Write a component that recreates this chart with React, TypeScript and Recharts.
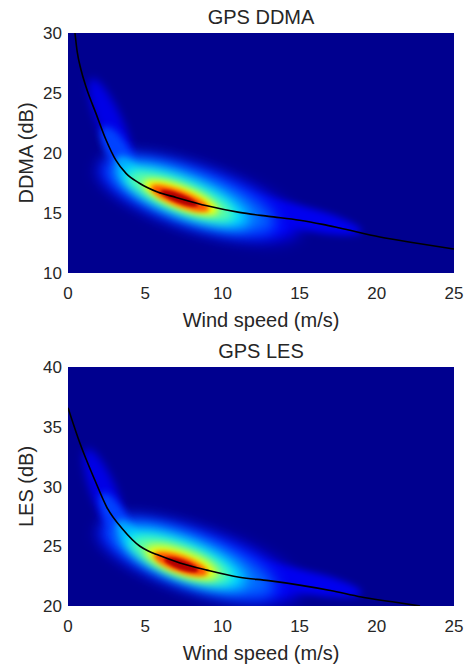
import React from 'react';
import { ComposedChart, Line, XAxis, YAxis, ReferenceArea } from 'recharts';

// ---------- data ----------
const windTicks = [0, 5, 10, 15, 20, 25];
const ddmaTicks = [10, 15, 20, 25, 30];
const lesTicks = [20, 25, 30, 35, 40];

const ddmaCurveWind = [0.45, 0.6, 0.85, 1.17, 1.81, 2.46, 3.1, 3.76, 4.6, 5.8, 7.0, 9.0, 11.1, 13.0, 15.0, 16.5, 17.6, 20.2, 22.5, 25.0];
const ddmaCurveValue = [30.0, 28.4, 26.9, 25.5, 23.3, 21.1, 19.4, 18.3, 17.5, 16.75, 16.3, 15.6, 15.05, 14.72, 14.4, 14.05, 13.75, 13.0, 12.5, 12.0];

const lesCurveWind = [0.0, 0.78, 1.75, 2.5, 3.56, 4.66, 5.2, 5.76, 7.25, 9.0, 11.1, 13.0, 15.0, 17.0, 19.0, 21.0, 22.8];
const lesCurveValue = [36.6, 33.6, 30.5, 28.3, 26.4, 25.0, 24.6, 24.3, 23.6, 23.0, 22.4, 22.12, 21.75, 21.3, 20.75, 20.35, 20.0];

// density contours: [centre wind, centre dB, half-extent wind, half-thickness dB, tilt dB per m/s, density level 0..1]
const ddmaDensity = [
  [8.5, 16.2, 6.5, 2.6, -0.4, 0.13],
  [2.8, 22.3, 1.3, 2.6, -3.0, 0.1],
  [14.5, 14.8, 4.5, 1.0, -0.3, 0.11],
  [7.9, 16.45, 5.5, 2.3, -0.45, 0.23],
  [3.2, 20.2, 0.9, 1.8, -2.2, 0.19],
  [3.9, 18.6, 0.7, 1.2, -1.5, 0.28],
  [7.5, 16.4, 4.2, 1.75, -0.5, 0.35],
  [7.3, 16.38, 3.4, 1.35, -0.5, 0.47],
  [7.3, 16.3, 2.4, 1.0, -0.5, 0.62],
  [7.25, 16.22, 1.9, 0.7, -0.5, 0.8],
  [7.2, 16.22, 1.2, 0.42, -0.5, 0.95],
];

const lesDensity = [
  [8.5, 23.8, 6.5, 2.6, -0.4, 0.13],
  [2.4, 29.3, 1.2, 2.8, -3.2, 0.1],
  [14.5, 22.2, 4.5, 1.0, -0.25, 0.11],
  [7.9, 23.95, 5.5, 2.3, -0.47, 0.23],
  [3.1, 27.3, 0.9, 1.8, -2.4, 0.19],
  [3.9, 26.0, 0.7, 1.2, -1.6, 0.28],
  [7.5, 23.93, 4.0, 1.8, -0.5, 0.35],
  [7.3, 23.82, 3.2, 1.4, -0.48, 0.47],
  [7.35, 23.64, 2.3, 1.05, -0.46, 0.62],
  [7.3, 23.52, 1.75, 0.72, -0.45, 0.8],
  [7.33, 23.45, 1.1, 0.45, -0.45, 0.95],
];

const backgroundLevel = 0.015;

// ---------- helpers ----------
const clamp01 = (v: number) => Math.max(0, Math.min(1, v));
const jet = (v: number) => {
  const r = clamp01(1.5 - Math.abs(4 * v - 3));
  const g = clamp01(1.5 - Math.abs(4 * v - 2));
  const b = clamp01(1.5 - Math.abs(4 * v - 1));
  return `rgb(${Math.round(r * 255)},${Math.round(g * 255)},${Math.round(b * 255)})`;
};

const FONT = '"Liberation Sans", Arial, Helvetica, sans-serif';
const TEXT = '#262626';

const toRows = (w: number[], v: number[]) => w.map((x, i) => ({ wind: x, value: v[i] }));

const makeBackgroundShape = (clipId: string) => (p: any) => {
  const x = Math.min(p.x, p.x + p.width);
  const y = Math.min(p.y, p.y + p.height);
  const w = Math.abs(p.width);
  const h = Math.abs(p.height);
  return (
    <g>
      <defs>
        <clipPath id={clipId}>
          <rect x={x} y={y} width={w} height={h} />
        </clipPath>
      </defs>
      <rect x={x} y={y} width={w} height={h} fill={jet(backgroundLevel)} />
    </g>
  );
};

const makeBlobShape = (blob: number[], id: string, clipId: string) => (p: any) => {
  const [, , halfW, halfT, slope, level] = blob;
  const width = Math.abs(p.width);
  const height = Math.abs(p.height);
  const x = Math.min(p.x, p.x + p.width);
  const y = Math.min(p.y, p.y + p.height);
  if (!isFinite(width) || !isFinite(height) || width === 0 || height === 0) return <g />;
  const cx = x + width / 2;
  const cy = y + height / 2;
  const pxU = width / (2 * halfW);
  const pyU = height / (2 * halfT);
  const theta = Math.atan2(-slope * pyU, pxU);
  const a = halfW * Math.sqrt(pxU * pxU + slope * pyU * slope * pyU);
  const b = halfT * pyU * Math.cos(theta);
  const sd = Math.min(8, Math.max(1.8, b * 0.34));
  return (
    <g clipPath={`url(#${clipId})`}>
      <defs>
        <filter id={id} x="-100%" y="-100%" width="300%" height="300%">
          <feGaussianBlur stdDeviation={sd} />
        </filter>
      </defs>
      <ellipse
        cx={cx}
        cy={cy}
        rx={a}
        ry={b}
        fill={jet(level)}
        filter={`url(#${id})`}
        transform={`rotate(${(theta * 180) / Math.PI} ${cx} ${cy})`}
      />
    </g>
  );
};

type PanelProps = {
  id: string;
  title: string;
  yLabel: string;
  yTicks: number[];
  rows: { wind: number; value: number }[];
  blobs: number[][];
  height: number;
  bottom: number;
};

const Panel = ({ id, title, yLabel, yTicks, rows, blobs, height, bottom }: PanelProps) => {
  const margin = { top: 33, right: 17, bottom, left: 8 };
  const plotTop = margin.top;
  const plotBottom = height - bottom - 50;
  const plotMidX = (68 + 454) / 2;
  const yDomain = [yTicks[0], yTicks[yTicks.length - 1]];
  const clipId = `${id}-plot-clip`;
  return (
    <ComposedChart width={471} height={height} data={rows} margin={margin}>
      <XAxis
        dataKey="wind"
        type="number"
        domain={[0, 25]}
        ticks={windTicks}
        height={50}
        axisLine={false}
        tickLine={false}
        tickSize={0}
        tickMargin={14}
        allowDataOverflow
        tick={{ fontSize: 17, fill: TEXT, fontFamily: FONT }}
      />
      <YAxis
        type="number"
        domain={yDomain}
        ticks={yTicks}
        width={60}
        axisLine={false}
        tickLine={false}
        tickSize={0}
        tickMargin={6}
        allowDataOverflow
        tick={{ fontSize: 17, fill: TEXT, fontFamily: FONT }}
      />
      <ReferenceArea
        x1={0}
        x2={25}
        y1={yDomain[0]}
        y2={yDomain[1]}
        ifOverflow="hidden"
        shape={makeBackgroundShape(clipId)}
      />
      {blobs.map((b, i) => (
        <ReferenceArea
          key={`${id}-blob-${i}`}
          x1={b[0] - b[2]}
          x2={b[0] + b[2]}
          y1={b[1] - b[3]}
          y2={b[1] + b[3]}
          ifOverflow="hidden"
          shape={makeBlobShape(b, `${id}-blur-${i}`, clipId)}
        />
      ))}
      <Line
        dataKey="value"
        type="monotone"
        stroke="#000000"
        strokeWidth={1.6}
        dot={false}
        activeDot={false}
        isAnimationActive={false}
      />
      <text x={plotMidX} y={plotTop - 9.5} textAnchor="middle" fontSize={20} fill={TEXT} fontFamily={FONT}>
        {title}
      </text>
      <text x={plotMidX} y={plotBottom + 54} textAnchor="middle" fontSize={20} fill={TEXT} fontFamily={FONT}>
        Wind speed (m/s)
      </text>
      <text
        x={33}
        y={(plotTop + plotBottom) / 2}
        textAnchor="middle"
        fontSize={20}
        fill={TEXT}
        fontFamily={FONT}
        transform={`rotate(-90 33 ${(plotTop + plotBottom) / 2})`}
      >
        {yLabel}
      </text>
    </ComposedChart>
  );
};

export default function App() {
  return (
    <div style={{ position: 'absolute', left: 0, top: 0, width: 471, height: 664, background: '#ffffff' }}>
      <Panel
        id="ddma"
        title="GPS DDMA"
        yLabel="DDMA (dB)"
        yTicks={ddmaTicks}
        rows={toRows(ddmaCurveWind, ddmaCurveValue)}
        blobs={ddmaDensity}
        height={334}
        bottom={11}
      />
      <Panel
        id="les"
        title="GPS LES"
        yLabel="LES (dB)"
        yTicks={lesTicks}
        rows={toRows(lesCurveWind, lesCurveValue)}
        blobs={lesDensity}
        height={330}
        bottom={8}
      />
    </div>
  );
}
